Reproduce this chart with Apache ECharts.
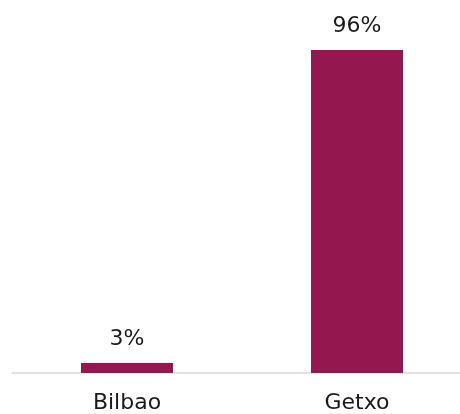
<!DOCTYPE html>
<html>
<head>
<meta charset="utf-8">
<script src="https://cdn.jsdelivr.net/npm/echarts@6/dist/echarts.min.js"></script>
<style>
  html, body { margin: 0; padding: 0; background: #fff; }
  #chart { width: 460px; height: 414px; }
</style>
</head>
<body>
<div id="chart"></div>
<script>
// Share of responses by municipality (%)
const categories = ['Bilbao', 'Getxo'];
const shares = [3, 96];

const font = 'DejaVu Sans';
const chart = echarts.init(document.getElementById('chart'), null, { renderer: 'canvas' });
chart.setOption({
  animation: false,
  textStyle: { fontFamily: font },
  // the plot area runs a little past the right edge of the canvas
  grid: { left: 12, width: 460, top: 36.5, height: 336.5, containLabel: false, outerBoundsMode: 'none' },
  xAxis: {
    type: 'category',
    data: categories,
    axisLine: { show: true, lineStyle: { color: '#d9d9d9', width: 1.5 } },
    axisTick: { show: false },
    axisLabel: { color: '#1a1a1a', fontSize: 22, margin: 19, fontFamily: font }
  },
  yAxis: {
    type: 'value',
    min: 0,
    max: 100,
    show: false
  },
  series: [{
    type: 'bar',
    data: shares,
    barWidth: 92,
    itemStyle: { color: '#95174f' },
    label: {
      show: true,
      position: 'top',
      distance: 13,
      formatter: p => p.value + '%',
      color: '#1a1a1a',
      fontSize: 22,
      fontFamily: font
    }
  }]
});
</script>
</body>
</html>
